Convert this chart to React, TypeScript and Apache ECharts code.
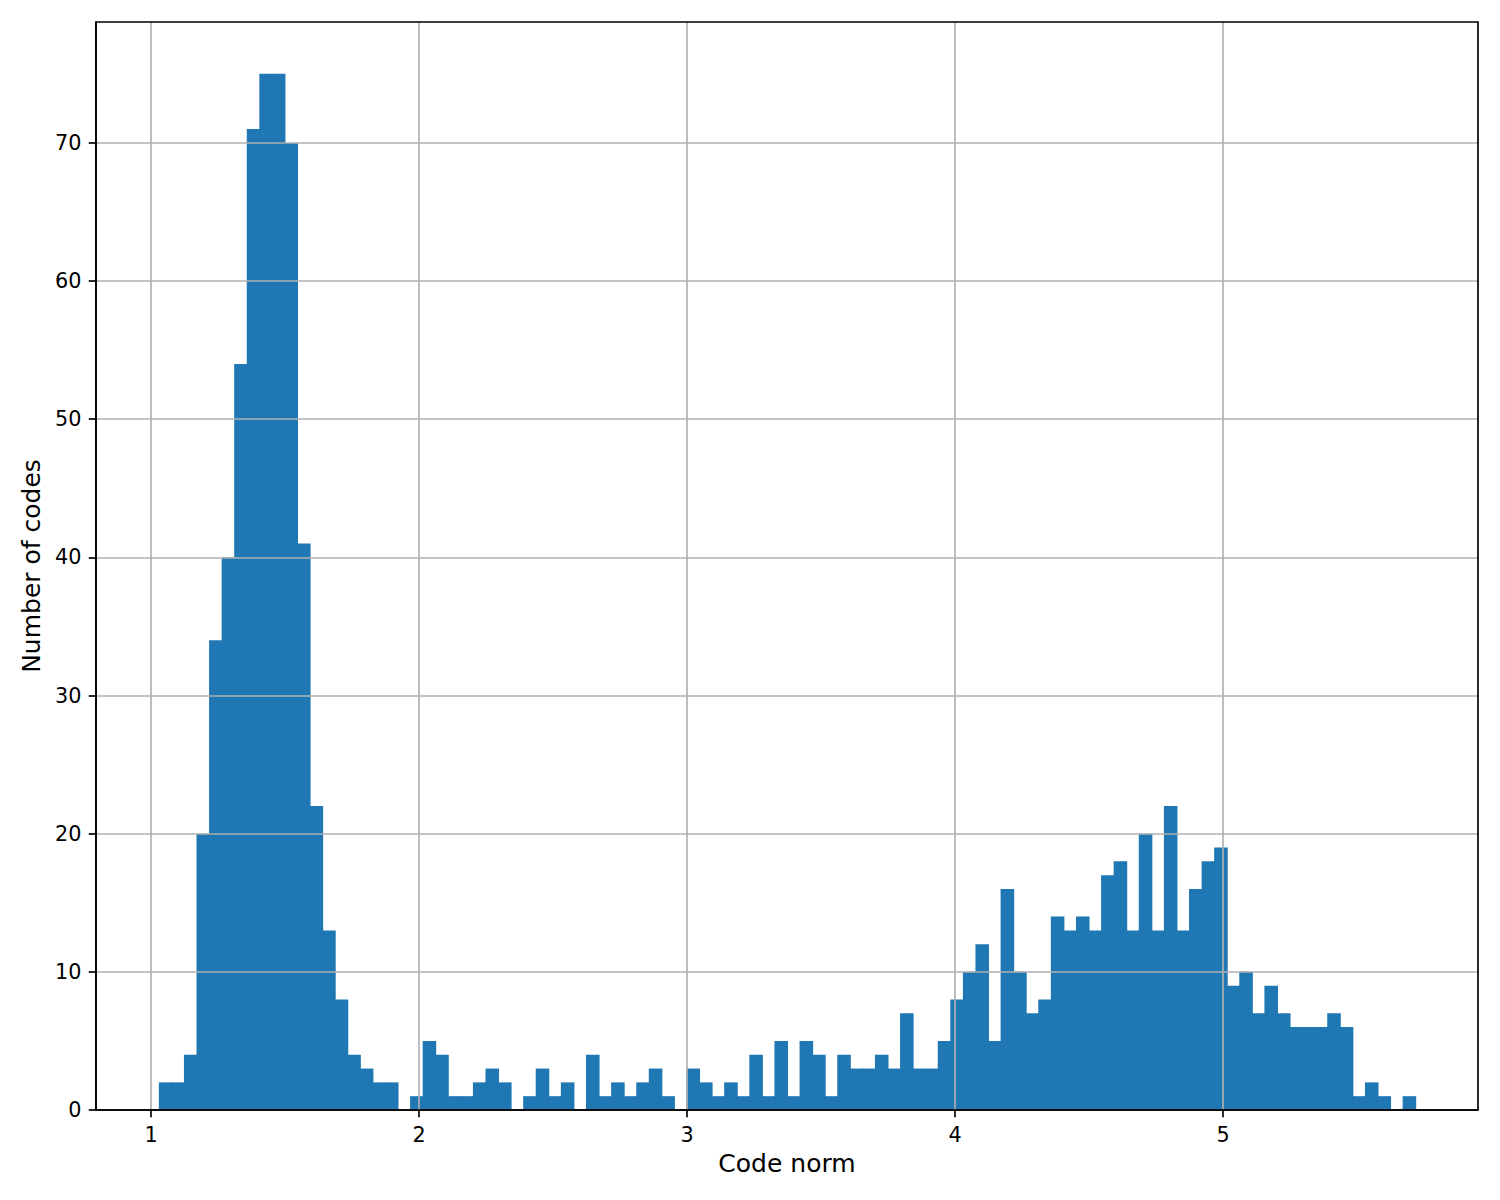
import React, { useEffect, useRef } from "react";
import * as echarts from "echarts";

// Histogram: 100 equal-width bins
const binStart = 1.0292;
const binWidth = 0.046879;
const counts = [
  2, 2, 4, 20, 34, 40, 54, 71, 75, 75,
  70, 41, 22, 13, 8, 4, 3, 2, 2, 0,
  1, 5, 4, 1, 1, 2, 3, 2, 0, 1,
  3, 1, 2, 0, 4, 1, 2, 1, 2, 3,
  1, 0, 3, 2, 1, 2, 1, 4, 1, 5,
  1, 5, 4, 1, 4, 3, 3, 4, 3, 7,
  3, 3, 5, 8, 10, 12, 5, 16, 10, 7,
  8, 14, 13, 14, 13, 17, 18, 13, 20, 13,
  22, 13, 16, 18, 19, 9, 10, 7, 9, 7,
  6, 6, 6, 7, 6, 1, 2, 1, 0, 1,
];
const xTicks = [1, 2, 3, 4, 5];
const yTicks = [0, 10, 20, 30, 40, 50, 60, 70];
const xMin = 0.7948;
const xMax = 5.9515;
const yMax = 78.75;
const xLabel = "Code norm";
const yLabel = "Number of codes";

export default function App() {
  const ref = useRef<HTMLDivElement>(null);
  useEffect(() => {
    const chart = echarts.init(ref.current!, null, { renderer: "svg" });
    const data = counts.map((c, i) => [
      binStart + i * binWidth,
      binStart + (i + 1) * binWidth,
      c,
    ]);
    const font = "DejaVu Sans";
    const lw = 1.67;
    chart.setOption({
      animation: false,
      backgroundColor: "#ffffff",
      grid: {
        left: 96,
        right: 22,
        top: 22,
        bottom: 90,
        show: true,
        borderColor: "#000000",
        borderWidth: lw,
        backgroundColor: "transparent",
        z: 4,
      },
      xAxis: {
        type: "value",
        min: xMin,
        max: xMax,
        z: 3,
        name: xLabel,
        nameLocation: "middle",
        nameGap: 40,
        nameTextStyle: { fontFamily: font, fontSize: 25, color: "#000" },
        axisLine: { show: true, lineStyle: { color: "#000", width: lw } },
        axisTick: {
          show: true,
          length: 7.3,
          customValues: xTicks,
          lineStyle: { color: "#000", width: lw },
        },
        axisLabel: {
          customValues: xTicks,
          margin: 14.6,
          fontFamily: font,
          fontSize: 20.8,
          color: "#000",
        },
        splitLine: {
          show: true,
          customValues: xTicks,
          lineStyle: { color: "#b0b0b0", width: lw },
        },
      },
      yAxis: {
        type: "value",
        min: 0,
        max: yMax,
        z: 3,
        name: yLabel,
        nameLocation: "middle",
        nameGap: 50,
        nameTextStyle: { fontFamily: font, fontSize: 25, color: "#000" },
        axisLine: { show: true, lineStyle: { color: "#000", width: lw } },
        axisTick: {
          show: true,
          length: 7.3,
          customValues: yTicks,
          lineStyle: { color: "#000", width: lw },
        },
        axisLabel: {
          customValues: yTicks,
          margin: 14.6,
          fontFamily: font,
          fontSize: 20.8,
          color: "#000",
        },
        splitLine: {
          show: true,
          customValues: yTicks,
          lineStyle: { color: "#b0b0b0", width: lw },
        },
      },
      series: [
        {
          type: "custom",
          z: 2,
          encode: { x: [0, 1], y: 2 },
          data,
          renderItem: (_params: any, api: any) => {
            const x0 = api.value(0);
            const x1 = api.value(1);
            const y = api.value(2);
            const p0 = api.coord([x0, y]);
            const p1 = api.coord([x1, 0]);
            return {
              type: "rect",
              shape: {
                x: p0[0],
                y: p0[1],
                width: p1[0] - p0[0] + 1,
                height: p1[1] - p0[1],
              },
              style: { fill: "#1f77b4" },
            };
          },
        },
      ],
    });
    return () => chart.dispose();
  }, []);
  return (
    <div
      ref={ref}
      style={{ position: "absolute", left: 0, top: 0, width: 1500, height: 1200 }}
    />
  );
}
